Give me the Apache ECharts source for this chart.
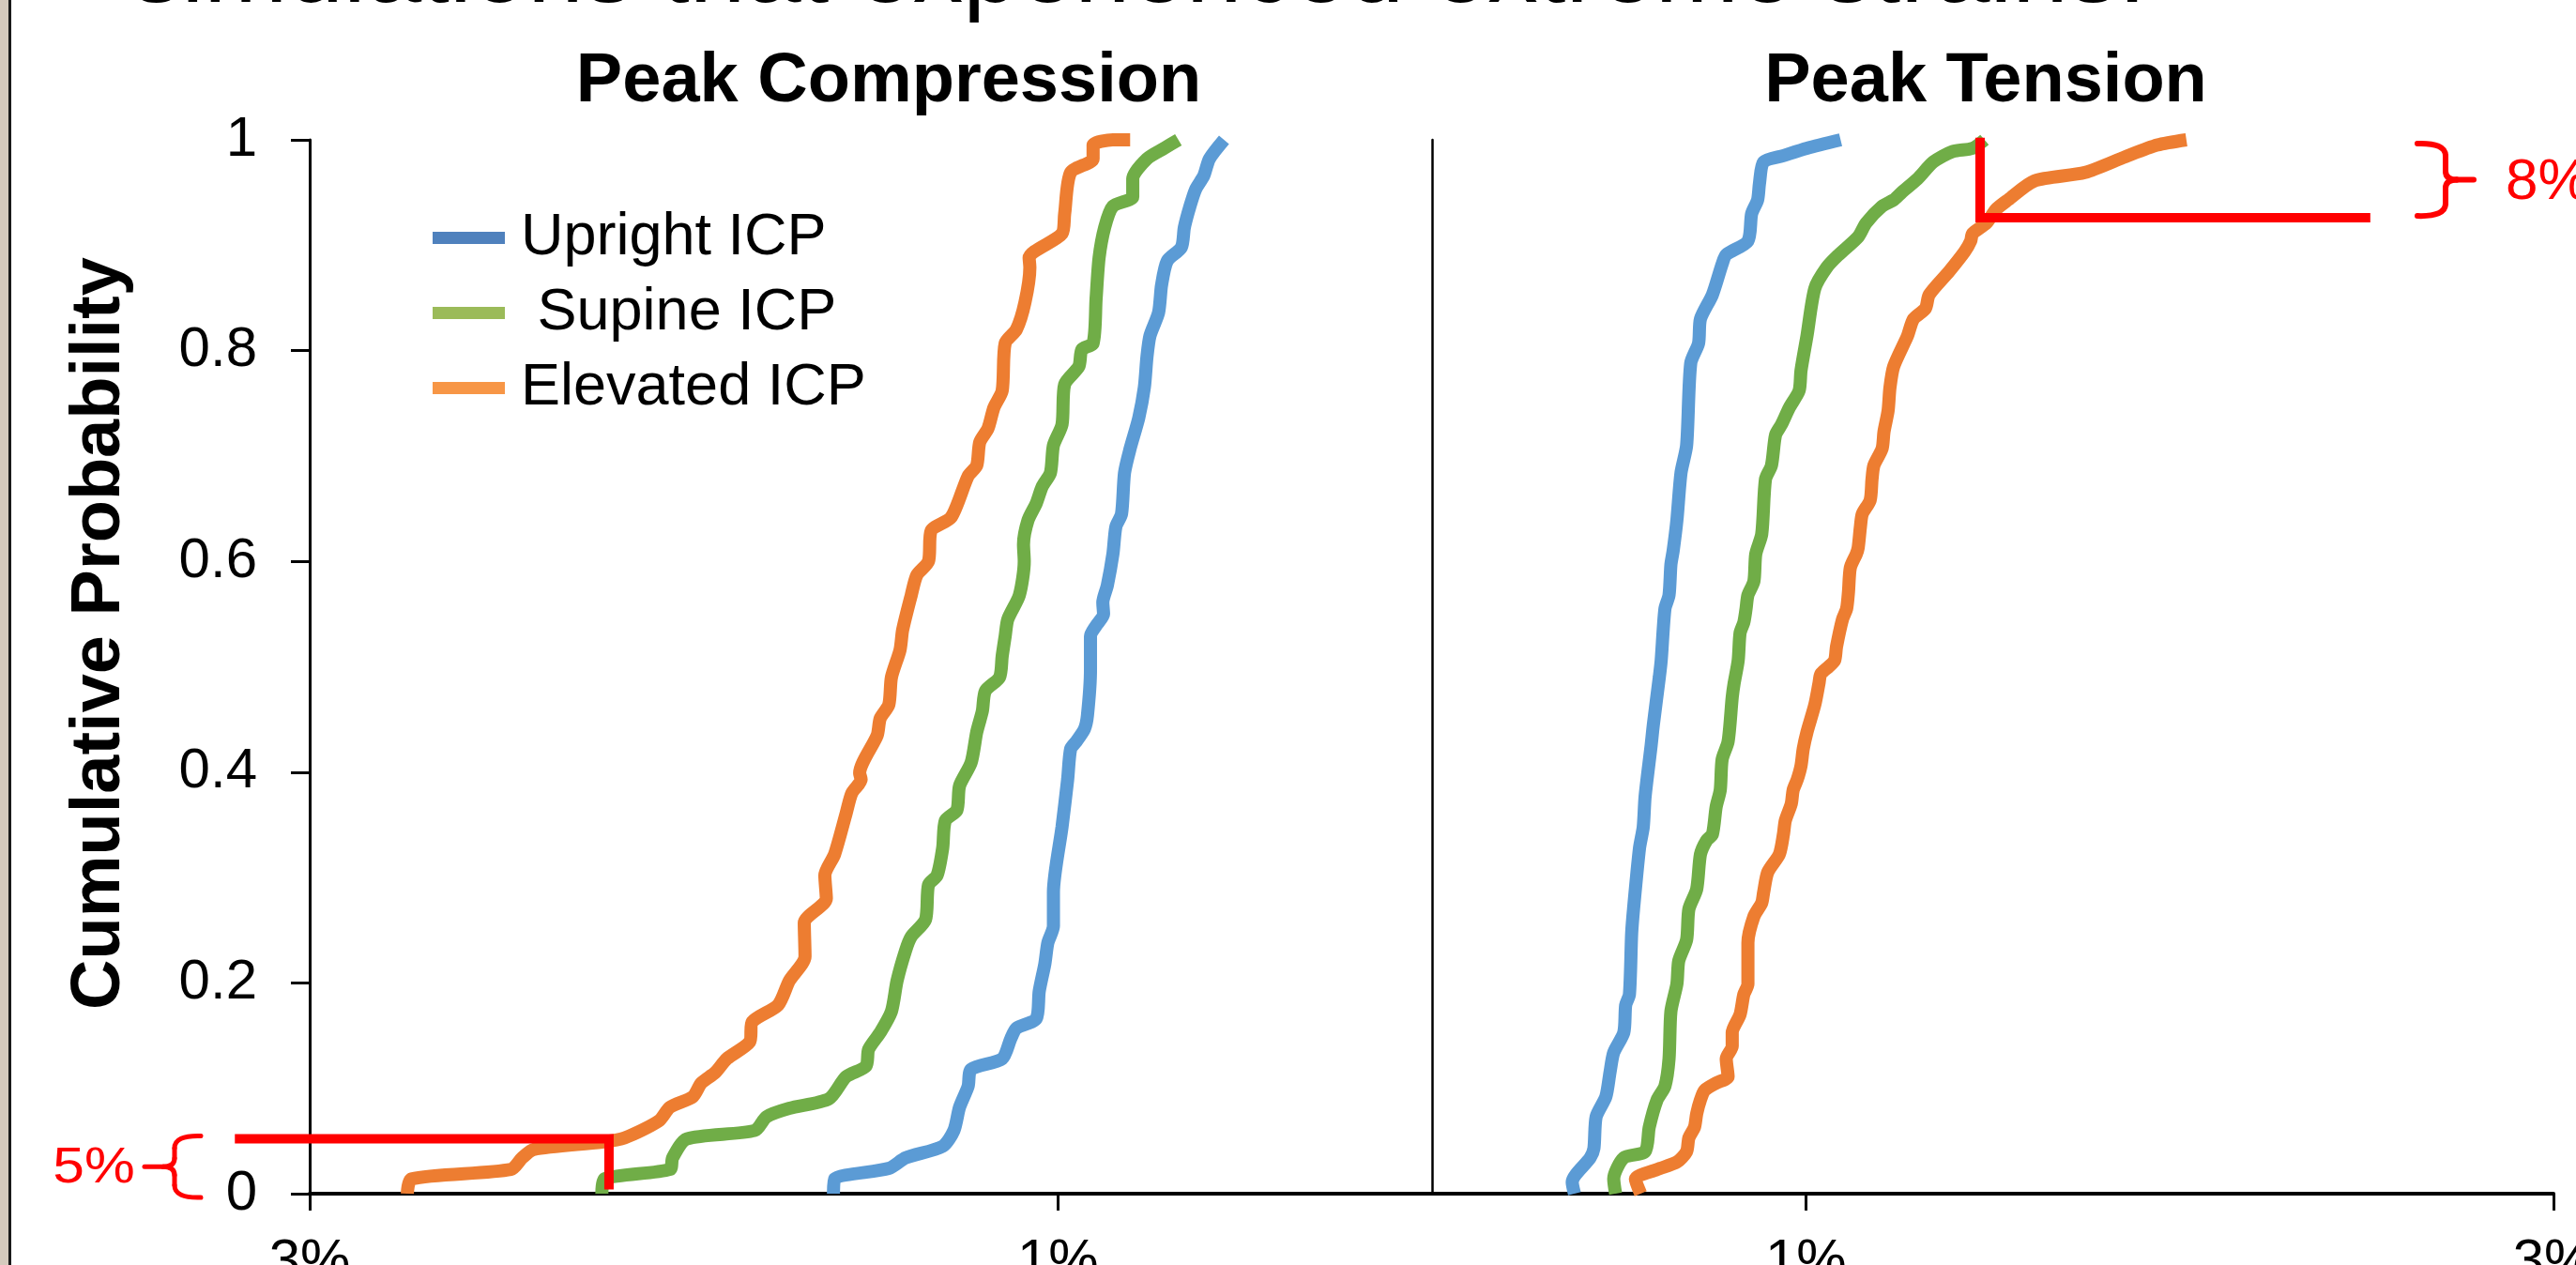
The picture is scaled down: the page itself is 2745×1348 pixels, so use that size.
<!DOCTYPE html>
<html>
<head>
<meta charset="utf-8">
<script src="https://cdn.jsdelivr.net/npm/echarts@6/dist/echarts.min.js"></script>
<style>
html, body { margin: 0; padding: 0; background: #fff; }
#chart { width: 2745px; height: 1348px; }
</style>
</head>
<body>
<div id="chart"></div>
<script>

var seriesNames = ['Upright ICP', 'Supine ICP', 'Elevated ICP'];
var lineColors = ['#5b9bd5', '#70ad47', '#ed7d31'];
var legendColors = ['#4f81bd', '#9bbb59', '#f79646'];
var panelTitles = ['Peak Compression', 'Peak Tension'];
var strainTicks = [1, 3];

// [strain %, cumulative probability]  -- compression given as magnitude
var uprightCompression = [[1.600,0],[1.597,0.014],[1.452,0.024],[1.407,0.034],[1.308,0.045],[1.278,0.060],[1.263,0.082],[1.240,0.102],[1.232,0.118],[1.149,0.128],[1.126,0.147],[1.111,0.157],[1.058,0.166],[1.050,0.192],[1.035,0.218],[1.027,0.238],[1.012,0.254],[1.012,0.286],[0.989,0.348],[0.974,0.393],[0.966,0.422],[0.951,0.429],[0.929,0.441],[0.921,0.454],[0.913,0.497],[0.913,0.529],[0.898,0.539],[0.878,0.550],[0.880,0.561],[0.868,0.577],[0.853,0.607],[0.845,0.633],[0.830,0.645],[0.822,0.684],[0.807,0.707],[0.784,0.736],[0.769,0.765],[0.762,0.794],[0.754,0.814],[0.731,0.836],[0.723,0.862],[0.708,0.885],[0.670,0.898],[0.662,0.917],[0.647,0.937],[0.632,0.953],[0.610,0.966],[0.595,0.982],[0.556,1.0]];
var supineCompression = [[2.219,0],[2.212,0.014],[2.037,0.023],[2.030,0.034],[1.992,0.052],[1.810,0.060],[1.779,0.073],[1.718,0.081],[1.612,0.090],[1.566,0.111],[1.513,0.121],[1.506,0.137],[1.475,0.153],[1.445,0.173],[1.430,0.202],[1.407,0.231],[1.392,0.244],[1.354,0.260],[1.346,0.293],[1.323,0.302],[1.308,0.328],[1.301,0.354],[1.270,0.364],[1.263,0.387],[1.232,0.409],[1.217,0.438],[1.202,0.458],[1.194,0.477],[1.156,0.490],[1.149,0.510],[1.141,0.529],[1.134,0.545],[1.103,0.568],[1.090,0.600],[1.092,0.616],[1.080,0.639],[1.058,0.655],[1.042,0.671],[1.020,0.684],[1.012,0.710],[0.989,0.730],[0.982,0.768],[0.944,0.785],[0.936,0.801],[0.906,0.807],[0.898,0.849],[0.890,0.888],[0.875,0.917],[0.853,0.937],[0.800,0.946],[0.800,0.963],[0.762,0.982],[0.716,0.992],[0.678,1.0]];
var elevatedCompression = [[2.739,0],[2.728,0.014],[2.462,0.023],[2.432,0.034],[2.401,0.042],[2.219,0.049],[2.158,0.053],[2.067,0.069],[2.037,0.082],[1.976,0.092],[1.953,0.105],[1.916,0.115],[1.885,0.128],[1.824,0.144],[1.817,0.163],[1.748,0.179],[1.718,0.202],[1.676,0.225],[1.678,0.257],[1.619,0.280],[1.623,0.302],[1.597,0.322],[1.566,0.361],[1.551,0.380],[1.526,0.393],[1.530,0.399],[1.483,0.435],[1.475,0.451],[1.452,0.464],[1.445,0.490],[1.422,0.516],[1.415,0.535],[1.392,0.568],[1.377,0.587],[1.346,0.600],[1.339,0.629],[1.285,0.642],[1.240,0.681],[1.217,0.691],[1.209,0.713],[1.187,0.726],[1.171,0.746],[1.149,0.762],[1.141,0.807],[1.111,0.820],[1.088,0.846],[1.075,0.879],[1.077,0.888],[0.989,0.911],[0.982,0.930],[0.966,0.969],[0.906,0.982],[0.906,0.995],[0.853,1.0],[0.807,1.0]];

var uprightTension = [[0.381,0],[0.375,0.011],[0.423,0.034],[0.433,0.043],[0.439,0.073],[0.465,0.092],[0.476,0.115],[0.486,0.134],[0.513,0.153],[0.518,0.179],[0.528,0.189],[0.534,0.247],[0.539,0.270],[0.555,0.328],[0.565,0.348],[0.570,0.377],[0.586,0.425],[0.592,0.445],[0.608,0.490],[0.613,0.506],[0.623,0.555],[0.634,0.568],[0.639,0.597],[0.645,0.610],[0.655,0.639],[0.666,0.684],[0.681,0.710],[0.692,0.788],[0.713,0.807],[0.718,0.830],[0.750,0.853],[0.776,0.882],[0.787,0.891],[0.845,0.904],[0.855,0.930],[0.871,0.943],[0.876,0.959],[0.887,0.979],[0.940,0.985],[1.003,0.992],[1.093,1.0]];
var supineTension = [[0.491,0],[0.486,0.014],[0.513,0.034],[0.570,0.040],[0.581,0.063],[0.602,0.089],[0.623,0.102],[0.634,0.128],[0.639,0.173],[0.655,0.199],[0.660,0.221],[0.681,0.241],[0.687,0.270],[0.708,0.289],[0.718,0.322],[0.734,0.335],[0.750,0.341],[0.760,0.367],[0.771,0.383],[0.776,0.412],[0.792,0.429],[0.803,0.471],[0.808,0.484],[0.819,0.506],[0.824,0.532],[0.834,0.542],[0.840,0.555],[0.845,0.568],[0.861,0.581],[0.866,0.607],[0.882,0.626],[0.892,0.678],[0.908,0.691],[0.919,0.720],[0.935,0.730],[0.956,0.746],[0.982,0.762],[0.987,0.781],[1.003,0.814],[1.024,0.859],[1.056,0.879],[1.088,0.891],[1.140,0.908],[1.161,0.921],[1.204,0.937],[1.235,0.943],[1.256,0.950],[1.299,0.963],[1.341,0.979],[1.393,0.989],[1.446,0.992],[1.478,1.0]];
var elevatedTension = [[0.558,0],[0.544,0.014],[0.602,0.023],[0.655,0.030],[0.681,0.040],[0.687,0.053],[0.702,0.063],[0.708,0.076],[0.718,0.089],[0.729,0.098],[0.760,0.105],[0.792,0.111],[0.787,0.128],[0.803,0.140],[0.803,0.153],[0.824,0.170],[0.834,0.189],[0.845,0.199],[0.845,0.238],[0.861,0.263],[0.882,0.276],[0.887,0.286],[0.898,0.305],[0.929,0.322],[0.940,0.341],[0.945,0.354],[0.961,0.370],[0.966,0.383],[0.977,0.393],[0.987,0.406],[0.993,0.422],[1.003,0.438],[1.024,0.464],[1.035,0.484],[1.040,0.493],[1.061,0.500],[1.077,0.506],[1.082,0.519],[1.098,0.545],[1.109,0.555],[1.114,0.571],[1.119,0.594],[1.135,0.607],[1.140,0.613],[1.146,0.633],[1.151,0.645],[1.172,0.658],[1.177,0.678],[1.182,0.691],[1.204,0.707],[1.209,0.723],[1.220,0.743],[1.225,0.765],[1.235,0.785],[1.272,0.814],[1.288,0.830],[1.320,0.840],[1.330,0.853],[1.383,0.875],[1.425,0.894],[1.441,0.904],[1.446,0.911],[1.483,0.921],[1.509,0.934],[1.541,0.943],[1.611,0.961],[1.747,0.969],[1.855,0.984],[1.940,0.995],[2.018,1.0]];

// red call-outs: [strain, probability, line end strain]
var compressionCutoff = [2.20, 0.052, 3.2];
var tensionCutoff = [1.466, 0.926, 2.51];
var cutoffLabels = ['5%', '8%'];

var FONT = '"Liberation Sans", Arial, sans-serif';
var RED = '#ff0000';

var chart = echarts.init(document.getElementById('chart'));

var compData = [uprightCompression, supineCompression, elevatedCompression];
var tensData = [uprightTension, supineTension, elevatedTension];

var series = [];
for (var i = 0; i < 3; i++) {
  series.push({
    name: seriesNames[i], type: 'line', xAxisIndex: 0, yAxisIndex: 0,
    data: compData[i], symbol: 'none', smooth: 0.25,
    lineStyle: { color: lineColors[i], width: 14 }, itemStyle: { color: lineColors[i] }
  });
  series.push({
    name: seriesNames[i], type: 'line', xAxisIndex: 1, yAxisIndex: 1,
    data: tensData[i], symbol: 'none', smooth: 0.25,
    lineStyle: { color: lineColors[i], width: 14 }, itemStyle: { color: lineColors[i] }
  });
}

function xAxisCfg(gi, inverse) {
  return {
    type: 'value', gridIndex: gi, min: 0, max: 3, inverse: inverse,
    axisLine: { onZero: false, lineStyle: { color: '#000', width: 4 } },
    axisTick: { customValues: strainTicks, length: 18, lineStyle: { color: '#000', width: 3 } },
    axisLabel: { customValues: strainTicks, formatter: '{value}%', fontSize: 60, fontFamily: FONT, color: '#000', margin: 43 },
    splitLine: { show: false }
  };
}

chart.setOption({
  animation: false,
  backgroundColor: '#fff',
  grid: [
    { left: 330, right: 1219, top: 149, bottom: 76, outerBoundsMode: 'none', containLabel: false },
    { left: 1526, right: 24, top: 149, bottom: 76, outerBoundsMode: 'none', containLabel: false }
  ],
  xAxis: [xAxisCfg(0, true), xAxisCfg(1, false)],
  yAxis: [
    {
      type: 'value', gridIndex: 0, min: 0, max: 1, interval: 0.2,
      axisLine: { show: true, onZero: false, lineStyle: { color: '#000', width: 3 } },
      axisTick: { show: true, length: 20, lineStyle: { color: '#000', width: 3 } },
      axisLabel: { fontSize: 60, fontFamily: FONT, color: '#000', margin: 56 },
      splitLine: { show: false }
    },
    {
      type: 'value', gridIndex: 1, min: 0, max: 1,
      axisLine: { show: true, onZero: false, lineStyle: { color: '#000', width: 2.5 } },
      axisTick: { show: false }, axisLabel: { show: false }, splitLine: { show: false }
    }
  ],
  legend: {
    orient: 'vertical', left: 456, top: 217,
    itemWidth: 77, itemHeight: 13, itemGap: 17, icon: 'rect',
    textStyle: { fontSize: 63, fontFamily: FONT, color: '#000', lineHeight: 63, padding: [0, 0, 0, 12] },
    formatter: function (name) { return name === 'Supine ICP' ? ' ' + name : name; },
    data: seriesNames.map(function (n, k) {
      return { name: n, itemStyle: { color: legendColors[k] } };
    })
  },
  series: series
});

// decorations, positioned through the chart's own scales
var c1 = chart.convertToPixel({ gridIndex: 0 }, [compressionCutoff[0], compressionCutoff[1]]);
var c1left = chart.convertToPixel({ gridIndex: 0 }, [compressionCutoff[2], compressionCutoff[1]]);
var c1bot = chart.convertToPixel({ gridIndex: 0 }, [compressionCutoff[0], 0.004]);
var t1 = chart.convertToPixel({ gridIndex: 1 }, [tensionCutoff[0], tensionCutoff[1]]);
var t1top = chart.convertToPixel({ gridIndex: 1 }, [tensionCutoff[0], 1.002]);
var t1right = chart.convertToPixel({ gridIndex: 1 }, [tensionCutoff[2], tensionCutoff[1]]);
var zeroY = chart.convertToPixel({ gridIndex: 0 }, [0, 0])[1];
var oneY = chart.convertToPixel({ gridIndex: 0 }, [0, 1])[1];

function brace(x, arm, nub, top, bot, w) {
  var mid = (top + bot) / 2;
  var st = { stroke: RED, lineWidth: w, fill: null, lineCap: 'round' };
  var d = (nub > x) ? 1 : -1;
  return [
    { type: 'bezierCurve', z: 100, shape: { x1: arm, y1: top, cpx1: x, cpy1: top - 1, x2: x, y2: top + 13 }, style: st },
    { type: 'line', z: 100, shape: { x1: x, y1: top + 13, x2: x, y2: mid - 9 }, style: st },
    { type: 'bezierCurve', z: 100, shape: { x1: x, y1: mid - 9, cpx1: x, cpy1: mid, x2: x + d * 12, y2: mid }, style: st },
    { type: 'line', z: 100, shape: { x1: x + d * 12, y1: mid, x2: nub, y2: mid }, style: st },
    { type: 'bezierCurve', z: 100, shape: { x1: x + d * 12, y1: mid, cpx1: x, cpy1: mid, x2: x, y2: mid + 9 }, style: st },
    { type: 'line', z: 100, shape: { x1: x, y1: mid + 9, x2: x, y2: bot - 13 }, style: st },
    { type: 'bezierCurve', z: 100, shape: { x1: x, y1: bot - 13, cpx1: x, cpy1: bot + 1, x2: arm, y2: bot }, style: st }
  ];
}

var leftTop = c1[1] - 3, leftBot = zeroY + 4;
var rightTop = oneY + 4, rightBot = t1[1] - 2;

var graphics = [
  { type: 'rect', shape: { x: 0, y: 0, width: 10, height: 1348 }, style: { fill: '#d5cabd' }, silent: true },
  { type: 'line', shape: { x1: 10.5, y1: 0, x2: 10.5, y2: 1348 }, style: { stroke: '#1a1a1a', lineWidth: 3 }, silent: true },
  { type: 'text', x: 140, y: -28, style: { text: 'simulations that experienced extreme strains:', font: '107px ' + FONT, fill: '#000', align: 'left', verticalAlign: 'middle' } },
  { type: 'text', x: 947, y: 88, style: { text: panelTitles[0], font: 'bold 74px ' + FONT, fill: '#000', align: 'center', verticalAlign: 'middle' } },
  { type: 'text', x: 2116, y: 88, style: { text: panelTitles[1], font: 'bold 74px ' + FONT, fill: '#000', align: 'center', verticalAlign: 'middle' } },
  { type: 'text', x: 107, y: 675, rotation: Math.PI / 2, style: { text: 'Cumulative Probability', font: 'bold 74px ' + FONT, fill: '#000', align: 'center', verticalAlign: 'middle' } },
  { type: 'polyline', z: 100, shape: { points: [c1left, c1, c1bot] }, style: { stroke: RED, lineWidth: 10, lineJoin: 'miter', lineCap: 'butt', fill: null } },
  { type: 'polyline', z: 100, shape: { points: [t1top, t1, t1right] }, style: { stroke: RED, lineWidth: 10, lineJoin: 'miter', lineCap: 'butt', fill: null } },
  { type: 'text', z: 100, x: 100, y: (leftTop + leftBot) / 2 + 2, scaleX: 1.12, style: { text: cutoffLabels[0], font: '54px ' + FONT, fill: RED, align: 'center', verticalAlign: 'middle' } },
  { type: 'text', z: 100, x: 2670, y: (rightTop + rightBot) / 2 + 3, style: { text: cutoffLabels[1], font: '62px ' + FONT, fill: RED, align: 'left', verticalAlign: 'middle' } }
];
graphics = graphics.concat(brace(186, 214, 154, leftTop, leftBot, 5));
graphics = graphics.concat(brace(2606, 2576, 2636, rightTop, rightBot, 6));

chart.setOption({ graphic: graphics });
</script>
</body>
</html>
